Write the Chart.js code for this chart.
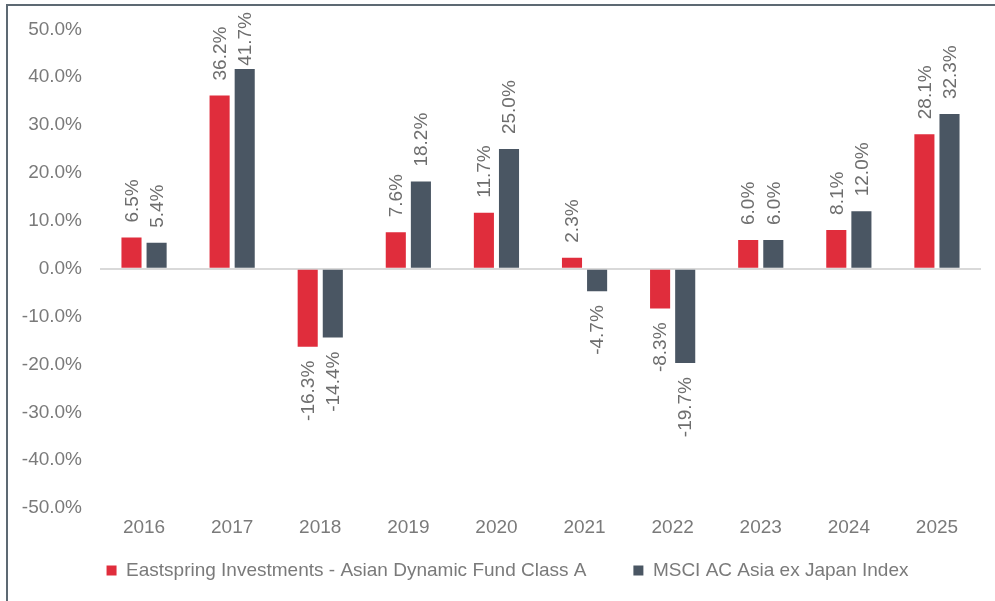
<!DOCTYPE html>
<html>
<head>
<meta charset="utf-8">
<script src="https://cdn.jsdelivr.net/npm/chart.js@4/dist/chart.umd.min.js"></script>
<style>
  html, body { margin: 0; padding: 0; background: #fff; }
  #wrap { position: relative; width: 995px; height: 601px; overflow: hidden; }
  #frame { position: absolute; left: 6px; top: 4px; width: 1100px; height: 700px;
           border-top: 2px solid #5d6973; border-left: 2px solid #5d6973; }
  canvas { position: absolute; left: 0; top: 0; }
</style>
</head>
<body>
<div id="wrap">
  <div id="frame"></div>
  <canvas id="returnsChart" width="995" height="601"></canvas>
</div>
<script>
const years = ['2016', '2017', '2018', '2019', '2020', '2021', '2022', '2023', '2024', '2025'];
const fundReturns = [6.5, 36.2, -16.3, 7.6, 11.7, 2.3, -8.3, 6.0, 8.1, 28.1];
const indexReturns = [5.4, 41.7, -14.4, 18.2, 25.0, -4.7, -19.7, 6.0, 12.0, 32.3];
const yTicks = [-50, -40, -30, -20, -10, 0, 10, 20, 30, 40, 50];

const FONT = "'Liberation Sans', Arial, sans-serif";

// rotated value labels at the end of each bar
const barLabels = {
  id: 'barLabels',
  afterDatasetsDraw(chart) {
    const ctx = chart.ctx;
    ctx.save();
    ctx.font = '19px ' + FONT;
    ctx.fillStyle = '#6e6e6e';
    ctx.textBaseline = 'middle';
    chart.data.datasets.forEach((ds, i) => {
      const meta = chart.getDatasetMeta(i);
      meta.data.forEach((bar, j) => {
        const v = ds.data[j];
        const text = v.toFixed(1) + '%';
        const w = ctx.measureText(text).width;
        ctx.save();
        if (v >= 0) {
          let y = bar.y - 15;
          if (y - w < 12) y = 12 + w;
          ctx.translate(bar.x, y);
          ctx.rotate(-Math.PI / 2);
          ctx.textAlign = 'left';
        } else {
          ctx.translate(bar.x, bar.y + 14);
          ctx.rotate(-Math.PI / 2);
          ctx.textAlign = 'right';
        }
        ctx.fillText(text, 0, 1);
        ctx.restore();
      });
    });
    ctx.restore();
  }
};

// nudge the legend a little to the right, like the original
const legendShift = {
  id: 'legendShift',
  afterLayout(chart) {
    if (chart.legend) {
      chart.legend.left += 17;
      chart.legend.right += 17;
    }
  }
};

new Chart(document.getElementById('returnsChart'), {
  type: 'bar',
  data: {
    labels: years,
    datasets: [{
      label: 'Eastspring Investments - Asian Dynamic Fund Class A',
      data: fundReturns,
      backgroundColor: '#e02d3c',
      barPercentage: 0.8,
      categoryPercentage: 0.57
    },
    {
      label: 'MSCI AC Asia ex Japan Index',
      data: indexReturns,
      backgroundColor: '#4a5663',
      barPercentage: 0.8,
      categoryPercentage: 0.57
    }]
  },
  options: {
    responsive: false,
    animation: false,
    layout: { padding: { left: 0, right: 14, top: 29, bottom: 11 } },
    plugins: {
      tooltip: { enabled: false },
      legend: {
        position: 'bottom',
        labels: {
          boxWidth: 10,
          boxHeight: 10,
          padding: 10,
          color: '#7a7a7a',
          font: { family: FONT, size: 19 },
          // wider gap between the two entries
          generateLabels(chart) {
            const items = Chart.defaults.plugins.legend.labels.generateLabels(chart);
            items[0].text += '       ';
            return items;
          }
        }
      }
    },
    scales: {
      x: {
        grid: { display: false },
        border: { display: false },
        ticks: { color: '#7a7a7a', padding: 0, font: { family: FONT, size: 19 } },
        afterFit(scale) { scale.height = 43; }
      },
      y: {
        min: -50,
        max: 50,
        afterBuildTicks(scale) { scale.ticks = yTicks.map(v => ({ value: v })); },
        grid: {
          drawTicks: false,
          color: c => (c.tick && c.tick.value === 0 ? '#d9d9d9' : 'rgba(0,0,0,0)'),
          lineWidth: 2
        },
        border: { display: false },
        ticks: {
          color: '#7a7a7a',
          padding: 18,
          font: { family: FONT, size: 19 },
          callback: v => v.toFixed(1) + '%'
        },
        afterFit(scale) { scale.width = 100; }
      }
    }
  },
  plugins: [barLabels, legendShift]
});
</script>
</body>
</html>
